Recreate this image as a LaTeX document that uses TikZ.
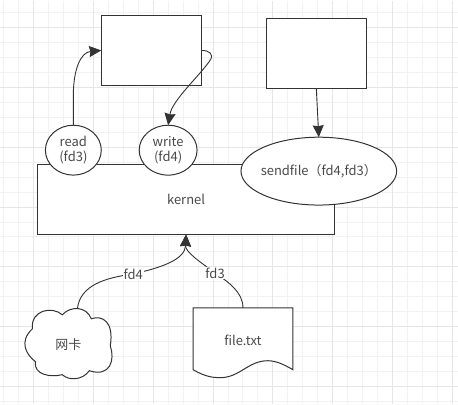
\documentclass[tikz,border=0pt]{standalone}
\usepackage{fontspec}
\setmainfont{Noto Sans CJK SC}
\usetikzlibrary{arrows.meta,shapes.geometric}
\definecolor{inkgray}{HTML}{333333}
\definecolor{textgray}{HTML}{4A4A4A}
\definecolor{gridminor}{HTML}{F2F2F2}
\definecolor{gridmajor}{HTML}{E6E6E6}
\tikzset{
    shapeline/.style={draw=inkgray,fill=white,line width=1pt},
    boxnode/.style={shapeline,outer sep=0pt,inner sep=0pt},
    ovalnode/.style={boxnode,ellipse,align=center,text=textgray},
    textnode/.style={outer sep=0pt,inner sep=0pt,text=textgray},
    edgelabel/.style={fill=white,inner sep=1pt,text=textgray},
    flow/.style={->,draw=inkgray,line width=0.9pt}
}
\begin{document}
\begin{tikzpicture}[x=1pt,y=-1pt,>={Stealth[length=12pt,width=11pt,inset=1pt]},font=\fontsize{13}{15}\selectfont]
    \fill[white] (0,0) rectangle (458,404);
    \foreach \gx in {3,18,...,453} \draw[gridminor,line width=1pt] (\gx,0) -- (\gx,404);
    \foreach \gy in {12,27,...,402} \draw[gridminor,line width=1pt] (0,\gy) -- (458,\gy);
    \foreach \gx in {33,93,...,453} \draw[gridmajor,line width=1pt] (\gx,0) -- (\gx,404);
    \foreach \gy in {27,87,...,387} \draw[gridmajor,line width=1pt] (0,\gy) -- (458,\gy);

    \node[boxnode,minimum width=298pt,minimum height=70pt,text=textgray] (kernel) at (186,199.5) {kernel};
    \node[ovalnode,minimum width=56pt,minimum height=50pt] (read) at (73,150) {read\\(fd3)};
    \node[ovalnode,minimum width=58pt,minimum height=50pt] (write) at (168,150) {write\\(fd4)};
    \node[ovalnode,inner xsep=-10pt,minimum width=156pt,minimum height=68pt] (sendfile) at (319,171) {sendfile（fd4,fd3）};
    \node[boxnode,minimum width=100pt,minimum height=70pt] (bufa) at (151,50) {};
    \node[boxnode,minimum width=100pt,minimum height=70pt] (bufb) at (316.5,53) {};

    \draw[shapeline] (62,315) .. controls (70,306) and (86,306) .. (91,319)
        .. controls (102,315) and (114,322) .. (110,346)
        .. controls (115,360) and (110,378) .. (89,371)
        .. controls (82,381) and (68,381) .. (62,375)
        .. controls (50,378) and (33,375) .. (35,362)
        .. controls (26,355) and (18,342) .. (32,329)
        .. controls (30,310) and (52,306) .. (62,315) -- cycle;
    \node[textnode,minimum width=88pt,minimum height=70pt] (netcard) at (68,345) {网卡};
    \coordinate (cloudtop) at (77,309);

    \draw[shapeline] (193,308) -- (293,308) -- (293,370)
        .. controls (283,364) and (275,361) .. (268,361)
        .. controls (248,361) and (240,378) .. (220,378)
        .. controls (213,378) and (205,377) .. (193,370) -- cycle;
    \node[textnode,minimum width=100pt,minimum height=70pt] (filetxt) at (243,341) {file.txt};

    \draw[flow] (read.north) -- (73,95) .. controls (73,70) and (80,52) .. (bufa.west);
    \draw[flow] (bufa.east) .. controls (210,50) and (214,54) .. (210,60)
        .. controls (200,75) and (172,100) .. (write.north);
    \draw[flow] (bufb.south) -- (sendfile.north);
    \draw[flow] (cloudtop) .. controls (80,285) and (105,278) .. (133,274)
        .. controls (160,268) and (185,260) .. (kernel.south);
    \draw[flow] (243,308) .. controls (243,292) and (228,282) .. (215,273)
        .. controls (200,262) and (185,252) .. (kernel.south);
    \node[edgelabel] (fdfour) at (133,274) {fd4};
    \node[edgelabel] (fdthree) at (215,273) {fd3};
\end{tikzpicture}
\end{document}
